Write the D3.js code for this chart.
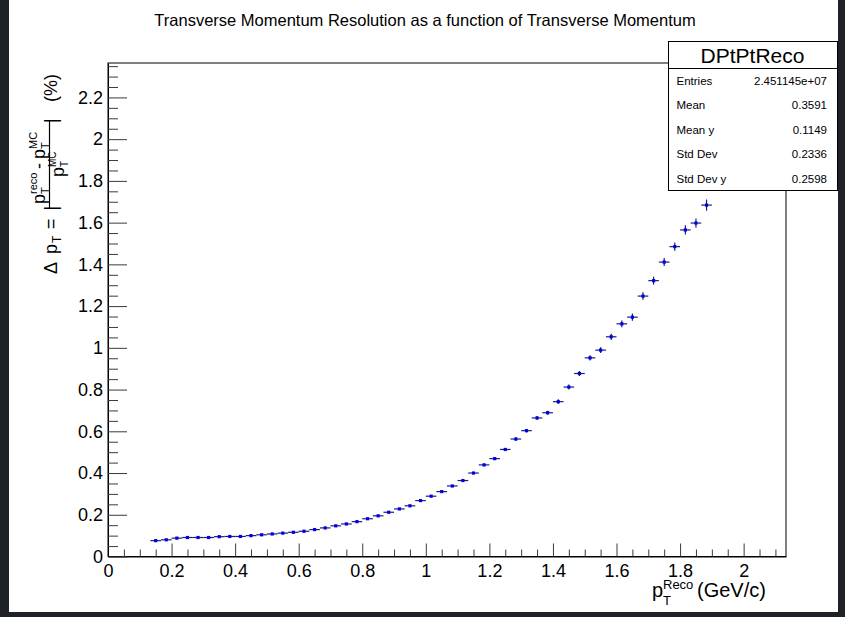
<!DOCTYPE html>
<html>
<head>
<meta charset="utf-8">
<script src="https://cdn.jsdelivr.net/npm/d3@7/dist/d3.min.js"></script>
<style>
  html, body { margin: 0; padding: 0; background: #1e2227; }
  svg { display: block; }
  text { font-family: "Liberation Sans", Arial, Helvetica, sans-serif; fill: #000; }
</style>
</head>
<body>
<svg id="chart" width="845" height="617"></svg>
<script>
// Bin centres of the reconstructed pT histogram (GeV/c)
const binCenters = [
  0.1500, 0.1833, 0.2167, 0.2500, 0.2833, 0.3167, 0.3500, 0.3833, 0.4167, 0.4500,
  0.4833, 0.5167, 0.5500, 0.5833, 0.6167, 0.6500, 0.6833, 0.7167, 0.7500, 0.7833,
  0.8167, 0.8500, 0.8833, 0.9167, 0.9500, 0.9833, 1.0167, 1.0500, 1.0833, 1.1167,
  1.1500, 1.1833, 1.2167, 1.2500, 1.2833, 1.3167, 1.3500, 1.3833, 1.4167, 1.4500,
  1.4833, 1.5167, 1.5500, 1.5833, 1.6167, 1.6500, 1.6833, 1.7167, 1.7500, 1.7833,
  1.8167, 1.8500, 1.8833
];
const binHalfWidth = 0.016667;

// Mean |pT(reco) - pT(MC)| / pT(MC) in each bin (%)
const resolution = [
  0.076, 0.080, 0.088, 0.091, 0.091, 0.091, 0.095, 0.096, 0.096, 0.100,
  0.104, 0.108, 0.112, 0.116, 0.121, 0.129, 0.137, 0.147, 0.156, 0.167,
  0.181, 0.195, 0.212, 0.228, 0.243, 0.268, 0.289, 0.311, 0.338, 0.364,
  0.400, 0.439, 0.469, 0.513, 0.563, 0.603, 0.664, 0.689, 0.742, 0.812,
  0.877, 0.952, 0.989, 1.053, 1.115, 1.147, 1.248, 1.322, 1.411, 1.485,
  1.565, 1.598, 1.684
];
const resolutionErr = [
  0.003, 0.003, 0.003, 0.003, 0.003, 0.003, 0.003, 0.003, 0.003, 0.003,
  0.003, 0.003, 0.003, 0.003, 0.003, 0.003, 0.003, 0.003, 0.003, 0.003,
  0.003, 0.003, 0.003, 0.003, 0.003, 0.003, 0.003, 0.004, 0.004, 0.005,
  0.005, 0.006, 0.006, 0.007, 0.008, 0.008, 0.009, 0.010, 0.011, 0.012,
  0.012, 0.013, 0.014, 0.015, 0.016, 0.017, 0.018, 0.019, 0.019, 0.020,
  0.022, 0.022, 0.027
];

const xRange = [0, 2.1333];
const yRange = [0, 2.365];
const xMajorTicks = [0, 0.2, 0.4, 0.6, 0.8, 1, 1.2, 1.4, 1.6, 1.8, 2];
const xTickLabels = ["0", "0.2", "0.4", "0.6", "0.8", "1", "1.2", "1.4", "1.6", "1.8", "2"];
const yMajorTicks = [0, 0.2, 0.4, 0.6, 0.8, 1, 1.2, 1.4, 1.6, 1.8, 2, 2.2];
const yTickLabels = ["0", "0.2", "0.4", "0.6", "0.8", "1", "1.2", "1.4", "1.6", "1.8", "2", "2.2"];
const minorStep = 0.05;

const histName = "DPtPtReco";
const statNames = ["Entries", "Mean", "Mean y", "Std Dev", "Std Dev y"];
const statValues = ["2.451145e+07", "0.3591", "0.1149", "0.2336", "0.2598"];
const chartTitle = "Transverse Momentum Resolution as a function of Transverse Momentum";

const svg = d3.select("#chart");

// canvas
svg.append("rect").attr("x", 0).attr("y", 0).attr("width", 845).attr("height", 617).attr("fill", "#1e2227");
svg.append("rect").attr("x", 9).attr("y", 0).attr("width", 829).attr("height", 612).attr("fill", "#ffffff");

const frame = { left: 108, right: 786, top: 63, bottom: 556.5 };
const x = d3.scaleLinear().domain(xRange).range([frame.left, frame.right]);
const y = d3.scaleLinear().domain(yRange).range([frame.bottom, frame.top]);

function minorValues(range) {
  const vals = [];
  const n = Math.floor(range[1] / minorStep + 1e-6);
  for (let i = 0; i <= n; i++) {
    const v = +(i * minorStep).toFixed(4);
    if (Math.abs(v / 0.2 - Math.round(v / 0.2)) > 1e-6) vals.push(v);
  }
  return vals;
}

// title
svg.append("text")
  .attr("x", 425).attr("y", 26)
  .attr("text-anchor", "middle")
  .attr("font-size", 16.5)
  .text(chartTitle);

// frame box
svg.append("rect")
  .attr("x", frame.left).attr("y", frame.top)
  .attr("width", frame.right - frame.left).attr("height", frame.bottom - frame.top)
  .attr("fill", "none").attr("stroke", "#000").attr("stroke-width", 1);

// x axis
const xAxisG = svg.append("g").attr("transform", `translate(0,${frame.bottom})`);
xAxisG.call(d3.axisBottom(x)
  .tickValues(xMajorTicks)
  .tickFormat((d, i) => xTickLabels[i])
  .tickSizeInner(-13).tickSizeOuter(0).tickPadding(8));
const xMinorG = svg.append("g").attr("transform", `translate(0,${frame.bottom})`);
xMinorG.call(d3.axisBottom(x).tickValues(minorValues(xRange)).tickFormat("").tickSizeInner(-7).tickSizeOuter(0));
xMinorG.select(".domain").remove();

// y axis
const yAxisG = svg.append("g").attr("transform", `translate(${frame.left},0)`);
yAxisG.call(d3.axisLeft(y)
  .tickValues(yMajorTicks)
  .tickFormat((d, i) => yTickLabels[i])
  .tickSizeInner(-19).tickSizeOuter(0).tickPadding(5));
const yMinorG = svg.append("g").attr("transform", `translate(${frame.left},0)`);
yMinorG.call(d3.axisLeft(y).tickValues(minorValues(yRange)).tickFormat("").tickSizeInner(-10).tickSizeOuter(0));
yMinorG.select(".domain").remove();

svg.selectAll(".tick line").attr("stroke", "#3a3a3a");
svg.selectAll(".domain").attr("stroke", "#000");
xAxisG.selectAll(".tick text").attr("font-size", 18).attr("font-family", "Liberation Sans, Arial, sans-serif").attr("fill", "#000");
yAxisG.selectAll(".tick text").attr("font-size", 18).attr("font-family", "Liberation Sans, Arial, sans-serif").attr("fill", "#000");

// x axis title: p_T^Reco (GeV/c)
const xt = svg.append("g");
xt.append("text").attr("x", 652).attr("y", 597).attr("font-size", 20).text("p");
xt.append("text").attr("x", 663).attr("y", 605).attr("font-size", 13).text("T");
xt.append("text").attr("x", 663).attr("y", 589).attr("font-size", 13).text("Reco");
xt.append("text").attr("x", 697).attr("y", 597).attr("font-size", 20).text("(GeV/c)");

// y axis title: Δ p_T = | (p_T^reco - p_T^MC) / p_T^MC | (%), written bottom to top
const yt = svg.append("g").attr("transform", "rotate(-90)");
function rt(str, sy, sx, size) {
  return yt.append("text").attr("x", -sy).attr("y", sx).attr("font-size", size).text(str);
}
rt("\u0394", 274, 57, 18);
rt("p", 254, 57, 18);
rt("T", 243, 61, 12);
rt("=", 229, 57, 18);
rt("|", 210.5, 57, 18);
// numerator
rt("p", 204, 45, 18);
rt("T", 194, 49, 11);
rt("reco", 194, 37, 11);
rt("-", 169, 45, 18);
rt("p", 159, 45, 18);
rt("T", 149, 49, 11);
rt("MC", 149, 37, 11);
// fraction bar
svg.append("line").attr("x1", 49.5).attr("x2", 49.5).attr("y1", 120.5).attr("y2", 208.5)
  .attr("stroke", "#000").attr("stroke-width", 1.2);
// denominator
rt("p", 177, 64, 18);
rt("T", 167, 68, 10);
rt("MC", 167, 56, 10);
rt("|", 123, 57, 18);
rt("(%)", 102, 57, 18);

// data: horizontal bin-width bars, vertical error bars and markers
const pts = binCenters.map((c, i) => ({ c, v: resolution[i], e: resolutionErr[i] }));
const dataG = svg.append("g");
dataG.selectAll("line.h").data(pts).join("line").attr("class", "h")
  .attr("x1", d => x(d.c - binHalfWidth)).attr("x2", d => x(d.c + binHalfWidth))
  .attr("y1", d => y(d.v)).attr("y2", d => y(d.v))
  .attr("stroke", "#1c1c7a").attr("stroke-width", 1.2);
dataG.selectAll("line.v").data(pts).join("line").attr("class", "v")
  .attr("x1", d => x(d.c)).attr("x2", d => x(d.c))
  .attr("y1", d => y(d.v - d.e)).attr("y2", d => y(d.v + d.e))
  .attr("stroke", "#1c1c7a").attr("stroke-width", 1.2);
dataG.selectAll("rect.m").data(pts).join("rect").attr("class", "m")
  .attr("x", d => x(d.c) - 1.6).attr("y", d => y(d.v) - 1.6)
  .attr("width", 3.2).attr("height", 3.2)
  .attr("fill", "#0000e6");

// statistics box
const box = { left: 668, right: 837, top: 41, header: 68, bottom: 190 };
const sb = svg.append("g");
sb.append("rect").attr("x", box.left + 0.5).attr("y", box.top + 0.5)
  .attr("width", box.right - box.left).attr("height", box.bottom - box.top)
  .attr("fill", "#fff").attr("stroke", "#000").attr("stroke-width", 1);
sb.append("line").attr("x1", box.left).attr("x2", box.right + 1)
  .attr("y1", box.header + 0.5).attr("y2", box.header + 0.5).attr("stroke", "#000");
sb.append("text").attr("x", (box.left + box.right) / 2).attr("y", 62.5)
  .attr("text-anchor", "middle").attr("font-size", 21).text(histName);
statNames.forEach((name, i) => {
  const by = 84.5 + i * 24.5;
  sb.append("text").attr("x", 676.5).attr("y", by).attr("font-size", 11.5).text(name);
  sb.append("text").attr("x", 827).attr("y", by).attr("text-anchor", "end").attr("font-size", 11.5).text(statValues[i]);
});
</script>
</body>
</html>
